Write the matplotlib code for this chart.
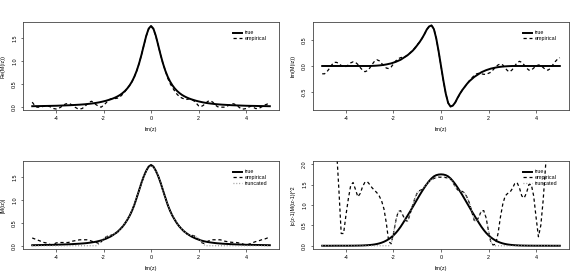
import numpy as np
import matplotlib

matplotlib.use("Agg")
import matplotlib.pyplot as plt

plt.rcParams.update({
    "font.family": ["Liberation Sans", "DejaVu Sans"],
    "axes.unicode_minus": False,
})

# sample positions on Im(z)
X = np.round(np.linspace(-5, 5, 101), 1)

RE_TRUE = [
    0.011, 0.012, 0.013, 0.014, 0.015, 0.016, 0.017, 0.018, 0.019, 0.020,
    0.021, 0.023, 0.025, 0.027, 0.029, 0.031, 0.033, 0.036, 0.039, 0.042,
    0.045, 0.049, 0.053, 0.058, 0.064, 0.070, 0.077, 0.085, 0.094, 0.105,
    0.117, 0.130, 0.146, 0.162, 0.181, 0.203, 0.229, 0.260, 0.298, 0.344,
    0.400, 0.469, 0.554, 0.660, 0.792, 0.953, 1.143, 1.353, 1.557, 1.711,
    1.770,
    1.711, 1.557, 1.353, 1.143, 0.953, 0.792, 0.660, 0.554, 0.469, 0.400,
    0.344, 0.298, 0.260, 0.229, 0.203, 0.181, 0.162, 0.146, 0.130, 0.117,
    0.105, 0.094, 0.085, 0.077, 0.070, 0.064, 0.058, 0.053, 0.049, 0.045,
    0.042, 0.039, 0.036, 0.033, 0.031, 0.029, 0.027, 0.025, 0.023, 0.021,
    0.020, 0.019, 0.018, 0.017, 0.016, 0.015, 0.014, 0.013, 0.012, 0.011,
]
RE_EMP = [
    0.10, 0.03, -0.01, -0.01, 0.00, 0.01, 0.01, 0.01, -0.01, -0.04,
    -0.05, -0.04, -0.01, 0.03, 0.06, 0.07, 0.06, 0.03, -0.01, -0.04,
    -0.05, -0.04, 0.00, 0.05, 0.10, 0.12, 0.08, 0.04, 0.01, -0.01,
    0.03, 0.08, 0.14, 0.17, 0.18, 0.18, 0.19, 0.22, 0.27, 0.33,
    0.40, 0.47, 0.55, 0.66, 0.79, 0.95, 1.14, 1.35, 1.55, 1.70,
    1.76,
    1.70, 1.55, 1.35, 1.14, 0.95, 0.79, 0.63, 0.51, 0.42, 0.34,
    0.27, 0.22, 0.19, 0.17, 0.16, 0.17, 0.16, 0.13, 0.08, 0.02,
    0.00, 0.03, 0.08, 0.12, 0.13, 0.10, 0.04, 0.00, -0.01, -0.01,
    -0.01, 0.01, 0.04, 0.07, 0.06, 0.03, -0.01, -0.05, -0.05, -0.04,
    -0.01, 0.01, -0.01, -0.04, -0.04, -0.02, 0.01, 0.04, 0.06, 0.07,
]

IM_TRUE = [
    0, 0, 0, 0, 0, 0, 0, 0, 0, 0,
    0, 0, 0, 0, 0, 0, 0, 0, 0, 0,
    0.000, 0.002, 0.004, 0.007, 0.011, 0.016, 0.022, 0.030, 0.040, 0.050,
    0.065, 0.080, 0.100, 0.120, 0.150, 0.180, 0.210, 0.250, 0.290, 0.340,
    0.400, 0.460, 0.530, 0.610, 0.700, 0.760, 0.780, 0.710, 0.530, 0.280,
    0.000,
    -0.280, -0.530, -0.710, -0.780, -0.760, -0.700, -0.610, -0.530, -0.460, -0.400,
    -0.340, -0.290, -0.250, -0.210, -0.180, -0.150, -0.120, -0.100, -0.080, -0.065,
    -0.050, -0.040, -0.030, -0.022, -0.016, -0.011, -0.007, -0.004, -0.002, 0.000,
    0, 0, 0, 0, 0, 0, 0, 0, 0, 0,
    0, 0, 0, 0, 0, 0, 0, 0, 0, 0,
]
IM_EMP = [
    -0.15, -0.15, -0.11, -0.05, 0.02, 0.07, 0.07, 0.05, 0.01, -0.01,
    -0.01, 0.02, 0.06, 0.08, 0.07, 0.03, -0.03, -0.08, -0.11, -0.09,
    -0.04, 0.03, 0.09, 0.12, 0.10, 0.05, 0.00, -0.04, -0.05, -0.02,
    0.04, 0.10, 0.14, 0.16, 0.17, 0.18, 0.21, 0.25, 0.30, 0.35,
    0.41, 0.46, 0.53, 0.61, 0.70, 0.76, 0.78, 0.72, 0.53, 0.28,
    0.00,
    -0.28, -0.53, -0.71, -0.78, -0.76, -0.70, -0.62, -0.53, -0.46, -0.40,
    -0.34, -0.28, -0.23, -0.18, -0.15, -0.14, -0.15, -0.16, -0.16, -0.14,
    -0.12, -0.07, -0.02, 0.02, 0.04, 0.02, -0.04, -0.09, -0.11, -0.07,
    0.00, 0.06, 0.09, 0.07, 0.02, -0.04, -0.08, -0.08, -0.04, 0.00,
    0.02, 0.01, -0.03, -0.07, -0.08, -0.05, 0.02, 0.08, 0.13, 0.16,
]

ABS_TRUE = [
    0.011, 0.012, 0.013, 0.014, 0.015, 0.016, 0.017, 0.018, 0.019, 0.020,
    0.021, 0.023, 0.025, 0.027, 0.029, 0.031, 0.033, 0.036, 0.039, 0.042,
    0.045, 0.049, 0.053, 0.058, 0.065, 0.072, 0.080, 0.090, 0.102, 0.116,
    0.134, 0.153, 0.177, 0.202, 0.235, 0.271, 0.311, 0.361, 0.416, 0.484,
    0.566, 0.657, 0.767, 0.899, 1.057, 1.219, 1.384, 1.528, 1.645, 1.734,
    1.770,
    1.734, 1.645, 1.528, 1.384, 1.219, 1.057, 0.899, 0.767, 0.657, 0.566,
    0.484, 0.416, 0.361, 0.311, 0.271, 0.235, 0.202, 0.177, 0.153, 0.134,
    0.116, 0.102, 0.090, 0.080, 0.072, 0.065, 0.058, 0.053, 0.049, 0.045,
    0.042, 0.039, 0.036, 0.033, 0.031, 0.029, 0.027, 0.025, 0.023, 0.021,
    0.020, 0.019, 0.018, 0.017, 0.016, 0.015, 0.014, 0.013, 0.012, 0.011,
]
ABS_EMP = [
    0.17, 0.15, 0.13, 0.11, 0.09, 0.07, 0.06, 0.04, 0.015, 0.03,
    0.06, 0.07, 0.07, 0.07, 0.07, 0.07, 0.08, 0.10, 0.11, 0.12,
    0.13, 0.13, 0.13, 0.13, 0.12, 0.10, 0.08, 0.07, 0.05, 0.08,
    0.15, 0.19, 0.22, 0.23, 0.24, 0.26, 0.30, 0.36, 0.42, 0.49,
    0.57, 0.66, 0.77, 0.90, 1.06, 1.22, 1.38, 1.53, 1.64, 1.73,
    1.76,
    1.73, 1.64, 1.53, 1.38, 1.22, 1.06, 0.90, 0.77, 0.66, 0.57,
    0.49, 0.42, 0.36, 0.30, 0.26, 0.24, 0.23, 0.22, 0.19, 0.15,
    0.08, 0.05, 0.07, 0.10, 0.12, 0.13, 0.13, 0.13, 0.13, 0.12,
    0.10, 0.09, 0.08, 0.075, 0.07, 0.07, 0.06, 0.05, 0.03, 0.015,
    0.03, 0.05, 0.07, 0.09, 0.10, 0.12, 0.14, 0.15, 0.17, 0.18,
]
ABS_TRUNC = [
    0, 0, 0, 0, 0, 0, 0, 0, 0, 0,
    0, 0, 0, 0, 0, 0, 0, 0, 0, 0,
    0, 0, 0, 0, 0, 0, 0, 0, 0.03, 0.10,
    0.15, 0.19, 0.21, 0.22, 0.24, 0.27, 0.31, 0.36, 0.42, 0.49,
    0.57, 0.66, 0.77, 0.90, 1.06, 1.22, 1.38, 1.53, 1.64, 1.72,
    1.75,
    1.72, 1.64, 1.53, 1.38, 1.22, 1.06, 0.90, 0.77, 0.66, 0.57,
    0.49, 0.42, 0.36, 0.31, 0.27, 0.24, 0.22, 0.21, 0.19, 0.15,
    0.10, 0.03, 0, 0, 0, 0, 0, 0, 0, 0,
    0, 0, 0, 0, 0, 0, 0, 0, 0, 0,
    0, 0, 0, 0, 0, 0, 0, 0, 0, 0,
]

SQ_TRUE = [
    0.000, 0.000, 0.000, 0.000, 0.000, 0.001, 0.001, 0.001, 0.001, 0.001,
    0.001, 0.001, 0.002, 0.002, 0.003, 0.004, 0.005, 0.007, 0.010, 0.013,
    0.018, 0.024, 0.032, 0.043, 0.057, 0.075, 0.098, 0.127, 0.162, 0.205,
    0.255, 0.315, 0.385, 0.465, 0.555, 0.650, 0.745, 0.840, 0.940, 1.040,
    1.140, 1.240, 1.335, 1.425, 1.510, 1.585, 1.650, 1.700, 1.730, 1.745,
    1.750,
    1.745, 1.730, 1.700, 1.650, 1.585, 1.510, 1.425, 1.335, 1.240, 1.140,
    1.040, 0.940, 0.840, 0.745, 0.650, 0.555, 0.465, 0.385, 0.315, 0.255,
    0.205, 0.162, 0.127, 0.098, 0.075, 0.057, 0.043, 0.032, 0.024, 0.018,
    0.013, 0.010, 0.007, 0.005, 0.004, 0.003, 0.002, 0.002, 0.001, 0.001,
    0.001, 0.001, 0.001, 0.001, 0.001, 0.000, 0.000, 0.000, 0.000, 0.000,
]
SQ_EMP = [
    8.0, 6.6, 5.5, 4.5, 3.7, 3.0, 2.4, 1.40, 0.30, 0.30,
    0.75, 1.15, 1.48, 1.55, 1.38, 1.20, 1.28, 1.45, 1.56, 1.57,
    1.50, 1.42, 1.36, 1.30, 1.22, 1.10, 0.90, 0.55, 0.10, 0.05,
    0.30, 0.62, 0.84, 0.86, 0.74, 0.62, 0.60, 0.78, 0.98, 1.16,
    1.30, 1.35, 1.38, 1.44, 1.52, 1.58, 1.62, 1.65, 1.67, 1.68,
    1.68,
    1.68, 1.67, 1.66, 1.64, 1.56, 1.44, 1.37, 1.34, 1.33, 1.29,
    1.18, 1.04, 0.82, 0.62, 0.60, 0.72, 0.86, 0.86, 0.68, 0.36,
    0.08, 0.02, 0.04, 0.30, 0.70, 1.02, 1.22, 1.28, 1.31, 1.40,
    1.52, 1.55, 1.42, 1.22, 1.17, 1.30, 1.50, 1.50, 1.22, 0.70,
    0.22, 0.50, 1.12, 1.95, 2.8, 3.6, 4.5, 5.5, 6.6, 8.0,
]
SQ_TRUNC = [
    0, 0, 0, 0, 0, 0, 0, 0, 0, 0,
    0, 0, 0, 0, 0, 0, 0, 0, 0, 0,
    0, 0, 0, 0, 0, 0, 0, 0, 0, 0.05,
    0.30, 0.62, 0.84, 0.86, 0.74, 0.62, 0.60, 0.78, 0.98, 1.16,
    1.30, 1.35, 1.38, 1.44, 1.52, 1.58, 1.62, 1.65, 1.67, 1.68,
    1.68,
    1.68, 1.67, 1.66, 1.64, 1.56, 1.44, 1.37, 1.34, 1.33, 1.29,
    1.18, 1.04, 0.82, 0.62, 0.60, 0.72, 0.86, 0.86, 0.68, 0.36,
    0.08, 0, 0, 0, 0, 0, 0, 0, 0, 0,
    0, 0, 0, 0, 0, 0, 0, 0, 0, 0,
    0, 0, 0, 0, 0, 0, 0, 0, 0, 0,
]

LEGEND = ["true", "empirical", "truncated"]
XTICKS = [-4, -2, 0, 2, 4]

STYLE = {
    "true": dict(color="black", lw=1.4, ls="-"),
    "empirical": dict(color="black", lw=0.9, dashes=(2.6, 2.2)),
    "truncated": dict(color="#8c8c8c", lw=0.9, dashes=(0.7, 1.6)),
}

FS = 3.9


def panel(ax, curves, ylabel, yticks, ylim):
    for key, ys in curves:
        ax.plot(X, ys, **STYLE[key])
    ax.set_xlim(-5.4, 5.4)
    ax.set_ylim(*ylim)
    ax.set_xticks(XTICKS)
    ax.set_xticklabels([str(t) for t in XTICKS])
    ax.set_yticks(yticks)
    ax.set_yticklabels([f"{t:.1f}" for t in yticks], rotation=90, va="center")
    ax.tick_params(length=1.8, width=0.5, labelsize=FS, color="#333333", pad=2.2)
    for sp in ax.spines.values():
        sp.set_linewidth(0.6)
        sp.set_color("#444444")
    ax.set_xlabel("Im(z)", fontsize=FS)
    ax.xaxis.set_label_coords(0.5, -0.225)
    ax.xaxis.label.set_va("center")
    ax.set_ylabel(ylabel, fontsize=FS)
    ax.yaxis.set_label_coords(-0.076, 0.5)
    ax.yaxis.label.set_va("center")

    # legend, no frame, top right like R's bty="n"
    rows = [0.881, 0.817, 0.752]
    for i, (key, _) in enumerate(curves):
        ax.plot([0.818, 0.853], [rows[i], rows[i]], transform=ax.transAxes,
                **STYLE[key])
        ax.text(0.866, rows[i], LEGEND[i], transform=ax.transAxes,
                fontsize=FS, va="center", ha="left")


fig = plt.figure(figsize=(5.81, 2.78), dpi=100)
w, h = 0.4417, 0.3155
ax1 = fig.add_axes([0.0391, 0.6043, w, h])
ax2 = fig.add_axes([0.5382, 0.6043, w, h])
ax3 = fig.add_axes([0.0391, 0.1043, w, h])
ax4 = fig.add_axes([0.5382, 0.1043, w, h])

panel(ax1, [("true", RE_TRUE), ("empirical", RE_EMP)],
      "Re(M(iz))", [0.0, 0.5, 1.0, 1.5], (-0.072, 1.85))
panel(ax2, [("true", IM_TRUE), ("empirical", IM_EMP)],
      "Im(M(iz))", [-0.5, 0.0, 0.5], (-0.846, 0.84))
panel(ax3, [("true", ABS_TRUE), ("empirical", ABS_EMP), ("truncated", ABS_TRUNC)],
      "|M(iz)|", [0.0, 0.5, 1.0, 1.5], (-0.072, 1.85))
panel(ax4, [("true", SQ_TRUE), ("empirical", SQ_EMP), ("truncated", SQ_TRUNC)],
      "|c(z-1)M(iz-1)|^2", [0.0, 0.5, 1.0, 1.5, 2.0], (-0.08, 2.07))

fig.savefig("out.png", dpi=100)
